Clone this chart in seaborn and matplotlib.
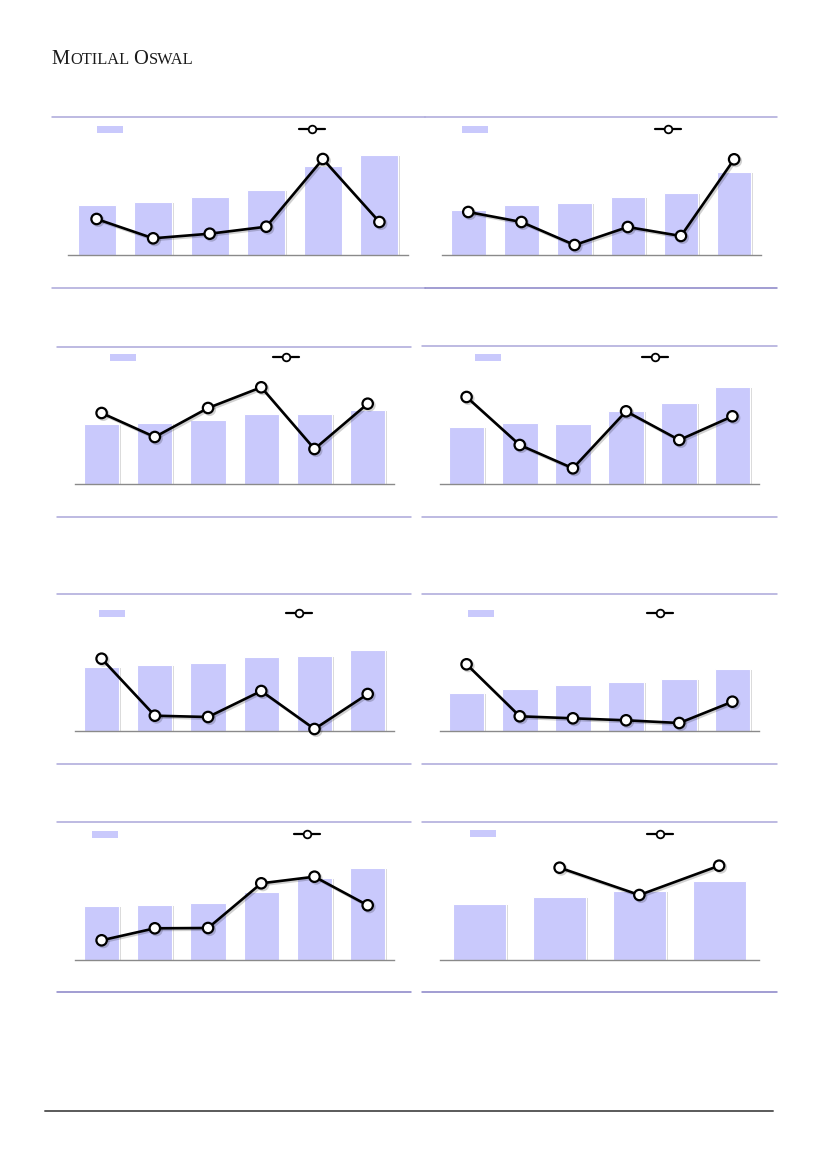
import matplotlib
matplotlib.use("Agg")
import matplotlib.pyplot as plt
import matplotlib.patheffects as pe
from matplotlib.lines import Line2D
from matplotlib.patches import Patch
import seaborn as sns
import numpy as np
import pandas as pd

# values (height above each chart's baseline)
bars_1 = [50.3, 53.6, 58.3, 65.3, 89.3, 100.6]
line_1 = [36.3, 17.0, 21.6, 28.6, 96.3, 33.3]
bars_2 = [45.3, 50.3, 52.3, 58.3, 62.3, 83.3]
line_2 = [43.3, 33.3, 10.3, 28.3, 19.3, 96.0]
bars_3 = [60.3, 61.3, 64.3, 70.3, 70.3, 74.3]
line_3 = [71.3, 47.3, 76.3, 97.0, 35.3, 80.6]
bars_4 = [57.3, 61.3, 60.3, 73.3, 81.3, 97.3]
line_4 = [87.3, 39.3, 16.0, 73.0, 44.3, 68.0]
bars_5 = [64.0, 66.0, 68.0, 74.0, 75.0, 81.0]
line_5 = [72.3, 15.3, 14.0, 40.0, 2.0, 37.0]
bars_6 = [38.0, 42.0, 46.0, 49.0, 52.0, 62.0]
line_6 = [66.7, 14.7, 12.7, 10.7, 8.0, 29.3]
bars_7 = [54.3, 55.3, 57.3, 68.3, 82.3, 92.3]
line_7 = [20.0, 32.0, 32.3, 77.0, 83.6, 55.0]
bars_8 = [56.3, 63.3, 69.3, 79.3]
line_8 = [np.nan, 92.6, 65.3, 94.6]

BAR_C = '#C9C9FC'
RULE_C = '#ABA7DA'
RULE_DARK = '#8783C6'
W, H = 827, 1169

# layout in page pixels: axis x0, x1, baseline, top, rule x0, x1, bottom rule, swatch x, line-legend x, legend y, bar width
panels = [
    (bars_1, line_1, (68.3, 407.7, 255.3, 117.3, 52, 425, 288.3, 96.7, 299.3, 130, 0.67, RULE_C)),
    (bars_2, line_2, (441.7, 760.7, 255.3, 117.3, 425, 776.7, 287.7, 461.7, 655, 130, 0.65, RULE_DARK)),
    (bars_3, line_3, (75, 394.3, 484.3, 346.7, 57.3, 411, 516.7, 110, 273.3, 358, 0.66, RULE_C)),
    (bars_4, line_4, (440, 759, 484.3, 346.5, 422.3, 776.7, 516.7, 475, 641.7, 358, 0.67, RULE_C)),
    (bars_5, line_5, (75, 394.3, 731, 594, 57.3, 411, 763.7, 99, 285.7, 614, 0.66, RULE_C)),
    (bars_6, line_6, (440, 759, 731, 593.5, 422.3, 776.7, 763.7, 468, 646.7, 614, 0.67, RULE_C)),
    (bars_7, line_7, (75, 394.3, 960.3, 822.3, 57.3, 411, 992.3, 91.7, 294.3, 835, 0.66, RULE_DARK)),
    (bars_8, line_8, (440, 759, 960.3, 822.3, 422.3, 776.7, 992.3, 470, 646.7, 834.7, 0.665, RULE_DARK)),
]


def fx(x):
    return x / W


def fy(y):
    return 1 - y / H


sns.set_style('white')
fig = plt.figure(figsize=(8.27, 11.69), dpi=100)

# page decorations
page = fig.add_axes([0, 0, 1, 1])
page.set_xlim(0, 1)
page.set_ylim(0, 1)
page.axis('off')

serif = 'Liberation Serif'
t = page.text(fx(51), fy(64.3), 'M', fontsize=14.8, family=serif, color='#1a1a1a', va='baseline')
t = page.annotate('OTILAL', xy=(1, 0), xycoords=t, xytext=(0.5, 0.6), textcoords='offset points',
                  fontsize=11.8, family=serif, color='#1a1a1a', va='bottom')
t = page.annotate('O', xy=(1, 0), xycoords=t, xytext=(3.2, -0.6), textcoords='offset points',
                  fontsize=14.8, family=serif, color='#1a1a1a', va='bottom')
page.annotate('SWAL', xy=(1, 0), xycoords=t, xytext=(0.5, 0.6), textcoords='offset points',
              fontsize=11.8, family=serif, color='#1a1a1a', va='bottom')

page.add_line(Line2D([fx(45), fx(773)], [fy(1110.5), fy(1110.5)], color='#5a5a5a', lw=1.4))

bar_fx = [pe.withSimplePatchShadow(offset=(1.2, -1.0), shadow_rgbFace='#000000', alpha=0.15)]
line_fx = [pe.SimpleLineShadow(offset=(1.2, -1.2), alpha=0.18), pe.Normal()]

for bars, line, lay in panels:
    x0, x1, base, top, rx0, rx1, rbot, sw_x, ll_x, leg_y, bw, bot_c = lay
    ax = fig.add_axes([fx(x0), fy(base), fx(x1) - fx(x0), fy(top) - fy(base)])
    ax.patch.set_alpha(0)
    n = len(bars)
    pos = np.arange(n)
    sns.barplot(x=pos, y=bars, color=BAR_C, saturation=1, width=bw, ax=ax,
                edgecolor='white', linewidth=0.8)
    for p in ax.patches:
        p.set_path_effects(bar_fx)
    df = pd.DataFrame({'x': pos, 'y': line}).dropna()
    sns.lineplot(data=df, x='x', y='y', ax=ax, color='black', lw=1.9, marker='o', markersize=7.5,
                 markerfacecolor='white', markeredgecolor='black', markeredgewidth=1.6,
                 clip_on=False, path_effects=line_fx, zorder=5)
    ax.set_xlim(-0.5, n - 0.5)
    ax.set_ylim(0, base - top)
    ax.set_xticks([])
    ax.set_yticks([])
    ax.set_xlabel('')
    ax.set_ylabel('')
    for s in ['top', 'left', 'right']:
        ax.spines[s].set_visible(False)
    ax.spines['bottom'].set_color('#8a8a8a')
    ax.spines['bottom'].set_linewidth(1.0)

    # legends (labels are empty on the page)
    kw = dict(frameon=False, fontsize=8, borderpad=0, borderaxespad=0, handletextpad=0,
              loc='center left', bbox_transform=fig.transFigure, handlelength=2.35)
    lg1 = ax.legend([Patch(facecolor=BAR_C, edgecolor='none')], [''], handleheight=0.6,
                    bbox_to_anchor=(fx(sw_x), fy(leg_y)), **kw)
    ax.add_artist(lg1)
    ax.legend([Line2D([], [], color='black', lw=1.6, marker='o', markersize=5.5,
                      markerfacecolor='white', markeredgecolor='black', markeredgewidth=1.3)],
              [''], bbox_to_anchor=(fx(ll_x), fy(leg_y)), **kw)

    # horizontal rules above and below each chart
    page.add_line(Line2D([fx(rx0), fx(rx1)], [fy(top), fy(top)], color=RULE_C, lw=1.1))
    page.add_line(Line2D([fx(rx0), fx(rx1)], [fy(rbot), fy(rbot)], color=bot_c, lw=1.1))

fig.savefig('out.png', dpi=100)
